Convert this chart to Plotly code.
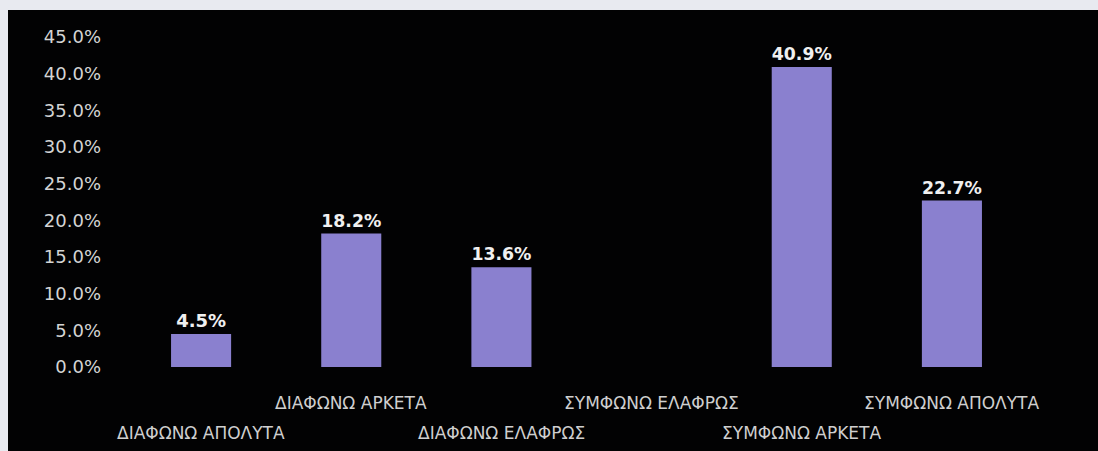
import plotly.graph_objects as go

categories = ["ΔΙΑΦΩΝΩ ΑΠΟΛΥΤΑ", "ΔΙΑΦΩΝΩ ΑΡΚΕΤΑ", "ΔΙΑΦΩΝΩ ΕΛΑΦΡΩΣ",
              "ΣΥΜΦΩΝΩ ΕΛΑΦΡΩΣ", "ΣΥΜΦΩΝΩ ΑΡΚΕΤΑ", "ΣΥΜΦΩΝΩ ΑΠΟΛΥΤΑ"]
values = [0.045, 0.182, 0.136, 0.0, 0.409, 0.227]
y_ticks = [0, 0.05, 0.10, 0.15, 0.20, 0.25, 0.30, 0.35, 0.40, 0.45]

W, H = 1098, 451
ML, MR, MT, MB = 126, 71, 37, 84
PW, PH = W - ML - MR, H - MT - MB

labels = [f"{v:.1%}" if v > 0 else "" for v in values]

fig = go.Figure(go.Bar(
    x=categories, y=values, text=labels, textposition="outside",
    marker=dict(color="#8a80cf", line=dict(width=0)),
    textfont=dict(family="DejaVu Sans", size=18, color="#f0f0f0", weight="bold"),
    cliponaxis=False,
))

annotations = []
for i, c in enumerate(categories):
    annotations.append(dict(
        x=c, xref="x", y=0, yref="paper", yanchor="middle",
        yshift=-36 if i % 2 == 1 else -66,
        text=c, showarrow=False,
        font=dict(family="DejaVu Sans", size=17, color="#cfcfcf"),
    ))

# light frame strips at the top and left edge of the image
shapes = [
    dict(type="rect", xref="paper", yref="paper", layer="above",
         x0=-ML / PW, x1=(W - ML) / PW, y0=(PH + MT - 10) / PH, y1=(PH + MT) / PH,
         fillcolor="#e8eaf0", line=dict(width=0)),
    dict(type="rect", xref="paper", yref="paper", layer="above",
         x0=-ML / PW, x1=(8 - ML) / PW, y0=-MB / PH, y1=(PH + MT) / PH,
         fillcolor="#e8eaf0", line=dict(width=0)),
]

fig.update_layout(
    width=W, height=H,
    margin=dict(l=ML, r=MR, t=MT, b=MB, autoexpand=False),
    paper_bgcolor="#020203", plot_bgcolor="#020203",
    bargap=0.6, showlegend=False,
    annotations=annotations, shapes=shapes,
    xaxis=dict(showticklabels=False, showgrid=False, zeroline=False,
               showline=False, ticks="", automargin=False,
               range=[-0.5, len(categories) - 0.5]),
    yaxis=dict(range=[0, 0.45], tickvals=y_ticks, tickformat=".1%",
               showgrid=False, zeroline=False, showline=False, ticks="",
               ticklabelstandoff=24, automargin=False,
               tickfont=dict(family="DejaVu Sans", size=18, color="#d4d4d4")),
)

fig.write_html("out.html")
